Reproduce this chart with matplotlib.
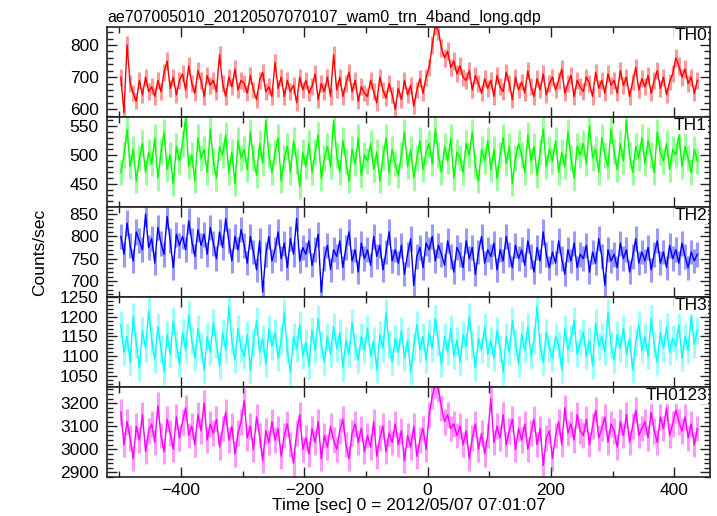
import numpy as np
import matplotlib
matplotlib.use("Agg")
import matplotlib.pyplot as plt
from matplotlib.ticker import MultipleLocator

plt.rcParams['font.family'] = ['Liberation Sans', 'DejaVu Sans']

title = "ae707005010_20120507070107_wam0_trn_4band_long.qdp"
xlabel = "Time [sec] 0 = 2012/05/07 07:01:07"
ylabel = "Counts/sec"
band_names = ["TH0", "TH1", "TH2", "TH3", "TH0123"]
band_colors = ["#ff0000", "#00ff00", "#0000ff", "#00ffff", "#ff00ff"]
bin_width = 5.0
t_start = -500.0

th0 = [700, 590, 800, 680, 650, 625, 690, 645, 700, 655,
       670, 640, 690, 655, 715, 750, 665, 700, 645, 690,
       710, 660, 735, 680, 650, 720, 690, 640, 705, 675,
       690, 655, 770, 680, 640, 700, 670, 725, 660, 690,
       680, 650, 705, 660, 630, 690, 715, 655, 670, 640,
       745, 665, 700, 640, 690, 655, 675, 620, 700, 660,
       690, 650, 670, 710, 630, 680, 655, 700, 640, 770,
       660, 700, 640, 680, 715, 655, 690, 625, 670, 650,
       640, 690, 655, 620, 700, 660, 635, 680, 645, 600,
       665, 630, 690, 645, 675, 610, 660, 695, 650, 700,
       730, 800, 860, 845, 790, 760, 780, 730, 750, 710,
       735, 700, 690, 720, 660, 705, 680, 650, 695, 665,
       690, 640, 705, 670, 655, 715, 680, 630, 700, 660,
       685, 650, 720, 670, 640, 695, 660, 710, 645, 680,
       700, 660, 690, 725, 650, 680, 705, 640, 690, 670,
       655, 700, 680, 640, 715, 665, 690, 650, 710, 675,
       690, 650, 720, 675, 700, 640, 685, 730, 660, 695,
       670, 705, 650, 690, 720, 665, 700, 645, 685, 710,
       760, 735, 700, 725, 680, 700, 650, 690]

th1 = [470, 500, 545, 480, 510, 455, 495, 520, 470, 505,
       485, 530, 460, 505, 540, 475, 500, 450, 515, 490,
       520, 565, 480, 500, 455, 530, 495, 510, 470, 545,
       490, 460, 515, 500, 535, 470, 505, 450, 525, 495,
       510, 475, 540, 495, 465, 520, 485, 560, 500, 470,
       505, 530, 455, 495, 515, 470, 525, 490, 445, 505,
       480, 520, 470, 505, 535, 460, 495, 515, 480, 560,
       500, 470, 525, 490, 455, 510, 485, 530, 465, 500,
       490, 520, 475, 505, 455, 495, 530, 470, 510, 485,
       465, 500, 540, 480, 510, 460, 495, 525, 475, 505,
       520, 485, 545, 500, 470, 515, 490, 530, 460, 505,
       495, 470, 520, 500, 540, 480, 455, 510, 490, 525,
       475, 510, 460, 500, 530, 485, 515, 450, 495, 520,
       500, 470, 535, 490, 515, 465, 505, 545, 480, 510,
       490, 525, 470, 505, 480, 540, 495, 460, 515, 500,
       520, 485, 550, 495, 510, 470, 530, 500, 480, 545,
       505, 475, 520, 490, 560, 500, 470, 515, 495, 530,
       485, 525, 500, 470, 540, 505, 490, 520, 475, 510,
       500, 535, 480, 515, 495, 470, 510, 490]

th2 = [800, 760, 830, 780, 745, 810, 790, 770, 850, 775,
       795, 740, 820, 785, 760, 845, 790, 730, 805, 780,
       800, 770, 835, 790, 755, 815, 780, 805, 760, 820,
       785, 750, 810, 775, 840, 790, 745, 800, 770, 815,
       780, 740, 800, 765, 725, 790, 675, 760, 800, 745,
       770, 810, 750, 785, 730, 795, 760, 840, 745, 775,
       760, 790, 735, 770, 805, 675, 750, 780, 725, 770,
       755, 790, 730, 775, 810, 745, 770, 720, 785, 750,
       770, 735, 800, 755, 780, 725, 765, 810, 745, 770,
       740, 780, 715, 760, 795, 690, 755, 775, 730, 785,
       770, 800, 745, 780, 760, 735, 790, 755, 720, 775,
       760, 730, 790, 750, 775, 715, 765, 800, 740, 770,
       755, 785, 725, 770, 745, 800, 760, 730, 780, 750,
       770, 735, 790, 755, 720, 775, 745, 810, 760, 730,
       765, 740, 790, 750, 715, 770, 745, 785, 730, 760,
       750, 780, 720, 765, 740, 795, 755, 690, 770, 745,
       760, 730, 785, 750, 770, 720, 755, 795, 740, 765,
       745, 775, 725, 760, 790, 740, 765, 730, 780, 750,
       770, 740, 785, 755, 730, 765, 745, 760]

th3 = [1180, 1110, 1150, 1085, 1200, 1130, 1070, 1165, 1120, 1215,
       1140, 1090, 1175, 1120, 1060, 1155, 1105, 1190, 1130, 1080,
       1160, 1115, 1205, 1140, 1095, 1170, 1125, 1065, 1150, 1110,
       1185, 1130, 1075, 1160, 1115, 1225, 1140, 1090, 1170, 1120,
       1100, 1155, 1065, 1135, 1190, 1110, 1145, 1080, 1170, 1125,
       1160, 1095, 1140, 1210, 1115, 1060, 1150, 1120, 1180, 1100,
       1135, 1075, 1165, 1115, 1195, 1130, 1085, 1150, 1105, 1175,
       1120, 1160, 1070, 1140, 1105, 1185, 1125, 1090, 1150, 1115,
       1170, 1100, 1140, 1065, 1155, 1120, 1210, 1130, 1085, 1145,
       1110, 1165, 1095, 1140, 1060, 1125, 1180, 1115, 1150, 1090,
       1160, 1120, 1195, 1135, 1080, 1150, 1110, 1170, 1100, 1140,
       1085, 1155, 1125, 1200, 1130, 1070, 1145, 1115, 1175, 1105,
       1140, 1095, 1165, 1120, 1060, 1150, 1110, 1190, 1135, 1080,
       1155, 1115, 1175, 1100, 1140, 1225, 1125, 1085, 1160, 1120,
       1095, 1150, 1130, 1065, 1170, 1115, 1145, 1190, 1105, 1135,
       1160, 1100, 1140, 1075, 1185, 1125, 1150, 1110, 1210, 1130,
       1090, 1155, 1120, 1170, 1105, 1145, 1065, 1135, 1180, 1115,
       1150, 1100, 1195, 1130, 1085, 1160, 1120, 1175, 1110, 1145,
       1125, 1180, 1095, 1150, 1115, 1200, 1130, 1165]

th0123 = [3160, 3020, 3120, 3050, 2960, 3100, 3040, 3150, 2990, 3080,
          3110, 3030, 3190, 3060, 2990, 3130, 3070, 3000, 3140, 3050,
          3120, 3180, 3060, 3100, 3020, 3150, 3080, 3200, 3040, 3110,
          3070, 3130, 3010, 3090, 3160, 3040, 3100, 2980, 3070, 3120,
          3210, 3050, 3100, 3000, 3140, 3060, 2950, 3080, 3030, 3120,
          3040, 3090, 2970, 3060, 3110, 3020, 2940, 3070, 3150, 3000,
          3050, 2980, 3090, 3030, 3120, 2960, 3060, 3010, 3100, 3040,
          3000, 3080, 3130, 3020, 2960, 3070, 3110, 3030, 3090, 2990,
          3060, 3010, 3120, 2970, 3050, 3100, 2990, 3070, 3030, 3110,
          3020, 3080, 2950, 3060, 3010, 3100, 2970, 3040, 3090, 3000,
          3150, 3230, 3280, 3260, 3180, 3120, 3150, 3090, 3110, 3060,
          3100, 3020, 3080, 2960, 3050, 3110, 3000, 3070, 2980, 3060,
          3220, 3030, 3100, 3050, 3150, 3020, 3080, 3130, 3000, 3090,
          3040, 3110, 3000, 3070, 3130, 3020, 3090, 2930, 3050, 3080,
          2960, 3060, 3120, 3020, 3180, 3070, 3110, 3040, 3150, 3080,
          3060, 3130, 3020, 3100, 3170, 3050, 3090, 3140, 3030, 3110,
          3080, 3010, 3120, 3060, 3150, 3030, 3100, 3170, 3060, 3090,
          3120, 3050, 3160, 3080, 3030, 3140, 3090, 3180, 3060, 3110,
          3170, 3120, 3080, 3140, 3050, 3110, 3020, 3090]

series = [th0, th1, th2, th3, th0123]
ylims = [(576, 856), (410, 566), (664, 866), (1022, 1250), (2880, 3270)]
y_major = [100, 50, 50, 50, 100]
y_minor = [20, 10, 10, 10, 20]

W, H = 717, 516
fig = plt.figure(figsize=(W / 100, H / 100), dpi=100)
left = 107 / W
width = (710 - 107) / W
top_px = 27
panel_h = 90

axes = []
for k in range(5):
    y0 = 1 - (top_px + panel_h * (k + 1)) / H
    ax = fig.add_axes([left, y0, width, panel_h / H],
                      sharex=axes[0] if axes else None)
    axes.append(ax)
    y = np.asarray(series[k], dtype=float)
    t = t_start + bin_width * (np.arange(len(y)) + 0.5)
    err = np.sqrt(y)
    ax.vlines(t, y - err, y + err, color=band_colors[k], alpha=0.4, lw=2.2)
    ax.plot(t, y, color=band_colors[k], lw=1.0)
    ax.set_ylim(*ylims[k])
    ax.yaxis.set_major_locator(MultipleLocator(y_major[k]))
    ax.yaxis.set_minor_locator(MultipleLocator(y_minor[k]))
    ax.xaxis.set_major_locator(MultipleLocator(200))
    ax.xaxis.set_minor_locator(MultipleLocator(100))
    ax.tick_params(which='both', direction='in', top=True, right=True,
                   labelsize=12.5, width=1.0, color='#222222')
    ax.tick_params(axis='y', which='both', pad=6)
    ax.tick_params(axis='x', which='both', pad=4)
    ax.tick_params(which='major', length=7)
    ax.tick_params(which='minor', length=4)
    for sp in ax.spines.values():
        sp.set_linewidth(1.2)
        sp.set_color('#222222')
    ax.text(0.995, 0.985, band_names[k], transform=ax.transAxes,
            ha='right', va='top', fontsize=12.5,
            bbox=dict(facecolor='white', edgecolor='none', pad=0.5))
    if k < 4:
        ax.tick_params(labelbottom=False)

axes[0].set_xlim(-520, 458)
axes[0].set_title(title, loc='left', fontsize=11.5, pad=4)
axes[-1].set_xlabel(xlabel, fontsize=12.5, labelpad=0)
fig.text(40 / W, 1 - 252 / H, ylabel, rotation=90, ha='center', va='center',
         fontsize=12.5)

fig.savefig("out.png", dpi=100)
